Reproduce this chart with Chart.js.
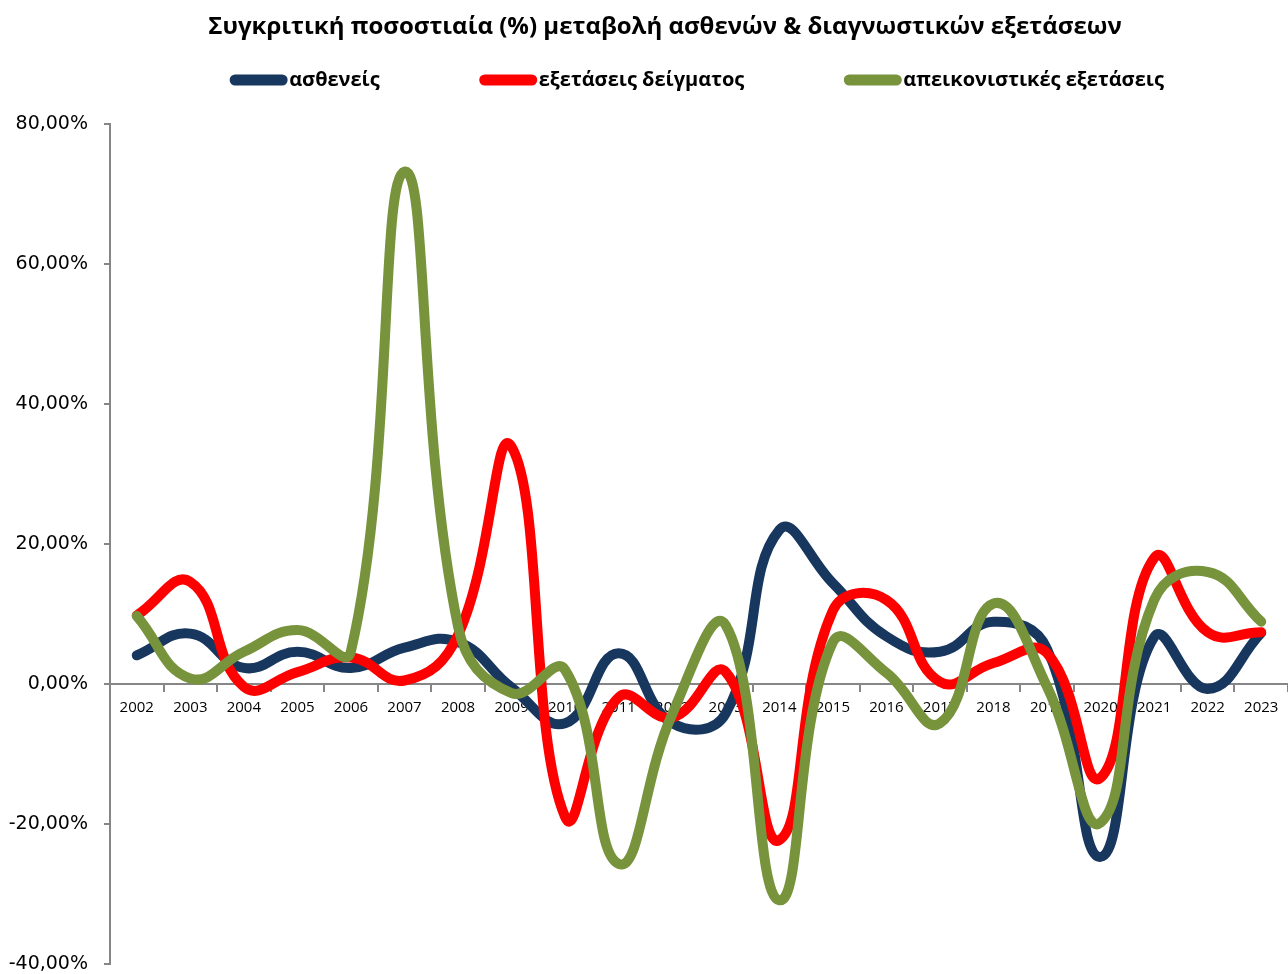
<!DOCTYPE html>
<html>
<head>
<meta charset="utf-8">
<script src="https://cdn.jsdelivr.net/npm/chart.js@4.4.0/dist/chart.umd.min.js"></script>
<style>
  html, body { margin: 0; padding: 0; background: #fff; }
</style>
</head>
<body>
<canvas id="lineChart" width="1288" height="974"></canvas>
<script>
// Data (percent change per year)
const years = ['2002', '2003', '2004', '2005', '2006', '2007', '2008', '2009', '2010', '2011', '2012',
               '2013', '2014', '2015', '2016', '2017', '2018', '2019', '2020', '2021', '2022', '2023'];
const patients     = [4.1, 7.2, 2.3, 4.6, 2.3, 5.2, 6.0, -0.5, -5.6, 4.4, -5.6, -4.2, 22.0, 14.4, 6.8, 4.6, 8.9, 5.0, -24.7, 6.7, -0.7, 7.3];
const sampleTests  = [9.8, 14.6, -0.4, 1.7, 3.8, 0.5, 7.0, 33.9, -19.0, -1.9, -4.8, 1.7, -22.3, 10.5, 12.0, 0.3, 3.0, 4.4, -13.4, 18.0, 7.4, 7.4];
const imagingTests = [9.7, 0.8, 4.6, 7.7, 4.7, 73.2, 8.2, -1.3, 2.0, -25.7, -4.3, 8.4, -30.9, 6.0, 1.6, -5.6, 11.5, -0.4, -19.8, 12.0, 16.0, 8.9];
const yMin = -40, yMax = 80, yStep = 20;

const seriesNames = ['ασθενείς', 'εξετάσεις δείγματος', 'απεικονιστικές εξετάσεις'];
const seriesColors = ['#17375E', '#FF0000', '#77933C'];
const chartTitle = 'Συγκριτική ποσοστιαία (%) μεταβολή ασθενών & διαγνωστικών εξετάσεων';

// title + legend drawn by hand so they sit where Excel put them
const headerPlugin = {
    id: 'header',
    afterDraw(chart) {
        const ctx = chart.ctx;
        ctx.save();
        ctx.fillStyle = '#000';
        ctx.textBaseline = 'middle';
        ctx.textAlign = 'center';
        ctx.font = 'bold 24px "Open Sans"';
        ctx.fillText(chartTitle, 665, 27);

        ctx.font = 'bold 20px "Open Sans"';
        ctx.textAlign = 'left';
        const lineLen = 57, gap = 100;
        const widths = seriesNames.map(n => lineLen + 2 + ctx.measureText(n).width);
        const total = widths.reduce((a, b) => a + b, 0) + gap * (widths.length - 1);
        let x = 697 - total / 2;
        const y = 80;
        seriesNames.forEach((name, i) => {
            ctx.strokeStyle = seriesColors[i];
            ctx.lineWidth = 11;
            ctx.lineCap = 'round';
            ctx.beginPath();
            ctx.moveTo(x + 5, y);
            ctx.lineTo(x + lineLen - 5, y);
            ctx.stroke();
            ctx.fillText(name, x + lineLen + 2, y);
            x += widths[i] + gap;
        });
        ctx.restore();
    }
};

const ctx = document.getElementById('lineChart').getContext('2d');
new Chart(ctx, {
    type: 'line',
    data: {
        labels: years,
        datasets: [
            { label: seriesNames[0], data: patients, borderColor: seriesColors[0], order: 3 },
            { label: seriesNames[1], data: sampleTests, borderColor: seriesColors[1], order: 2 },
            { label: seriesNames[2], data: imagingTests, borderColor: seriesColors[2], order: 1 }
        ]
    },
    options: {
        responsive: false,
        animation: false,
        devicePixelRatio: 1,
        layout: { padding: { top: 124, right: 0, left: 0, bottom: 10 } },
        elements: {
            line: { borderWidth: 10, tension: 0.45, borderCapStyle: 'round', borderJoinStyle: 'round', fill: false },
            point: { radius: 0, hoverRadius: 0 }
        },
        plugins: {
            legend: { display: false },
            title: { display: false },
            tooltip: { enabled: false }
        },
        scales: {
            x: {
                position: { y: 0 },
                offset: true,
                grid: { display: true, offset: true, drawOnChartArea: false, drawTicks: true, tickLength: 7, color: '#868686', lineWidth: 2 },
                border: { display: true, color: '#868686', width: 2 },
                ticks: { color: '#000', font: { family: '"Open Sans"', size: 15 }, padding: 8, maxRotation: 0, autoSkip: false }
            },
            y: {
                min: yMin,
                max: yMax,
                afterFit(scale) {
                    scale.width = 110;
                    scale.paddingTop = 0;
                    scale.paddingBottom = 0;
                },
                grid: { drawOnChartArea: false, drawTicks: true, tickLength: 6, color: '#868686', lineWidth: 2 },
                border: { display: true, color: '#868686', width: 2 },
                ticks: {
                    stepSize: yStep,
                    padding: 16,
                    color: '#000',
                    font: { family: '"DejaVu Sans"', size: 19 },
                    callback: v => v.toFixed(2).replace('.', ',') + '%'
                }
            }
        }
    },
    plugins: [headerPlugin]
});
</script>
</body>
</html>
